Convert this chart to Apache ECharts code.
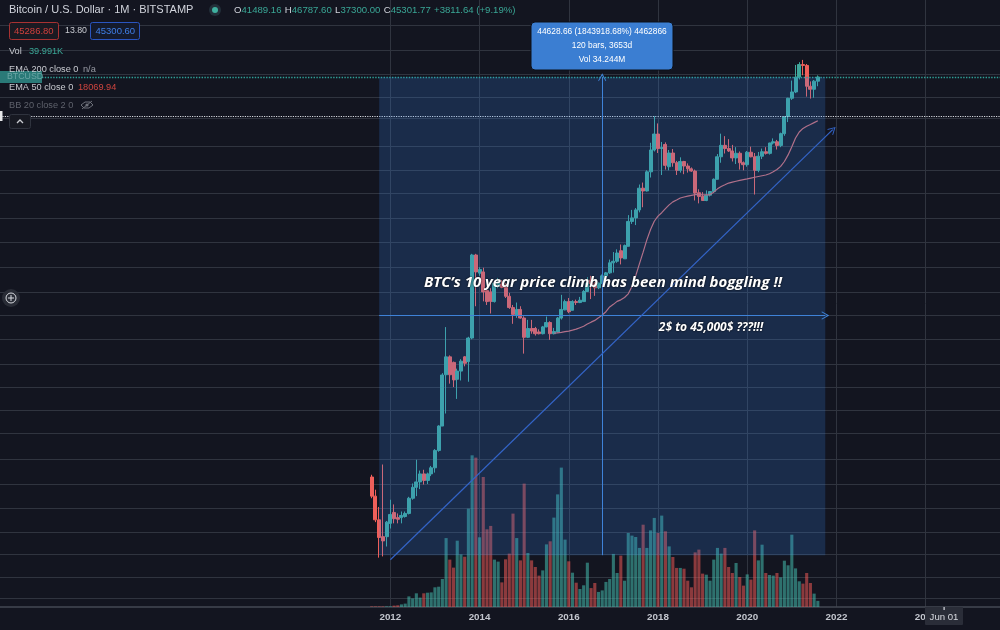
<!DOCTYPE html>
<html>
<head>
<meta charset="utf-8">
<style>html,body{margin:0;padding:0;background:#131520}#chart{width:1000px;height:630px}</style>
<script src="https://cdn.jsdelivr.net/npm/echarts@6/dist/echarts.min.js"></script>
</head>
<body>
<div id="chart"></div>
<script>
// months on the time axis, 2003-04 .. 2025-09
const months = [];
for (let y = 2003; y <= 2025; y++) {
  for (let m = 1; m <= 12; m++) {
    if ((y === 2003 && m < 4) || (y === 2025 && m > 9)) continue;
    months.push(y + '-' + String(m).padStart(2, '0'));
  }
}
const firstBar = '2011-08';

// monthly candles, 2011-08 .. 2021-08
const opens = [10.3,6.9,4.2,2.95,2.95,
  3.9,4.9,4.4,4.4,4.5,4.8,6.6,8.3,9.3,11,9.6,11,
  12.5,18,30,88,128,114,80,95,128,116,190,1084,
  741,760,514,500,408,570,590,550,456,360,308,346,
  289,193,232,232,216,208,240,263,208,216,289,343,
  408,340,408,400,408,504,640,590,545,600,700,745,
  920,950,1185,1000,1300,2190,2360,2790,4400,4150,6200,9800,
  13700,10100,11000,6900,9200,7500,6400,7700,7000,6600,6300,4000,
  3700,3400,3800,4100,5300,8500,10800,10100,9600,8300,9150,7500,
  7200,9350,8500,6400,8600,9450,9130,11350,11650,10780,13800,19700,
  29000,33100,45200,58800,57700,37300,35000,41489.16];
const closes = [6.9,4.2,2.9,2.7,4.0,
  4.7,4.3,4.25,4.6,4.8,6.6,8.3,9.3,11,9.6,11,12.5,
  18,30,87.5,128,88,79,95,117,112,190,1084,760,
  800,500,408,410,600,600,550,456,360,312,346,289,
  193,232,220,208,208,240,263,208,218,289,346,408,
  330,408,400,420,504,601,590,545,600,700,745,920,
  950,1130,1020,1320,2190,2360,2790,4400,4150,6200,9800,13700,
  10100,10300,7100,9200,7500,6400,7700,7000,6600,6300,3970,3700,
  3400,3800,4100,5300,8500,10800,10100,9600,8300,9150,7500,7200,
  9350,8500,6400,8600,9450,9130,11350,11650,10780,13800,19700,29000,
  33100,45200,58800,57700,37300,35000,41500,45301.77];
const lows = [6.6,4.0,1.9,1.95,2.4,
  3.5,3.9,3.9,3.9,4.4,4.7,6.4,6.9,8,8.8,8.9,10.5,
  11.3,17.5,30,39,73,68,53,78,105,76,185,370,
  700,410,380,318,400,540,540,440,350,256,290,285,
  137,190,208,200,205,205,238,183,205,214,280,340,
  320,340,380,395,408,500,430,460,530,590,690,730,
  750,920,890,1000,1300,2080,2030,2650,2950,4100,5500,9500,
  9200,5800,6500,6400,6900,5800,6100,5900,6100,6200,3400,3200,
  3400,3350,3700,4100,5300,7500,9100,9400,7700,7300,6500,6400,
  6900,8400,3850,6150,8100,8900,8900,11000,9900,10400,13200,17600,
  28000,32300,43000,47000,30000,28800,29300,37300];
const highs = [10.8,7.9,5.5,13.4,4.1,
  6.4,5.8,4.8,5.0,5.0,6.8,9.0,14.8,11.8,12,11.3,13,
  18.5,30.5,91,239,132,116,100,122,130,195,1110,1110,
  840,830,540,540,610,670,640,600,490,380,400,370,
  300,278,278,240,228,245,298,270,235,295,470,425,
  440,420,425,450,520,680,700,615,610,720,760,985,
  1153,1220,1350,1350,2500,2790,2900,4750,4950,6400,11400,19900,
  17100,11600,11500,9800,10000,7800,8400,7800,7400,6800,6500,4300,
  4050,4200,4100,5400,9000,13800,13100,12300,10900,10400,9500,7700,
  9600,10500,9200,9400,10100,10400,11400,12500,12100,14100,19900,29300,
  42000,58300,61800,64800,59500,41300,42500,46787.6];

// monthly volume, same months
const volumes = [4000,4000,4000,4000,4000,
  4000,9000,11000,17000,22000,69000,56000,89000,61000,89000,93000,95000,
  128000,132000,182000,448000,308000,256000,431000,342000,327000,639000,986000,971000,
  453000,845000,505000,527000,308000,295000,160000,310000,347000,607000,448000,303000,
  802000,351000,303000,260000,204000,238000,407000,427000,581000,732000,906000,438000,
  297000,223000,158000,117000,141000,288000,123000,156000,98000,108000,163000,182000,
  345000,221000,334000,171000,481000,464000,455000,384000,535000,384000,498000,579000,
  481000,594000,492000,394000,325000,254000,254000,249000,171000,128000,355000,373000,
  217000,210000,171000,308000,384000,347000,384000,260000,221000,286000,195000,139000,
  212000,178000,498000,303000,405000,221000,208000,204000,221000,193000,301000,271000,
  470000,251000,167000,152000,221000,156000,87000,39991];

// EMA 50, starts 2015-09
const emaStart = '2015-09';
const ema50 = [210,212,214,217,
  220,224,229,236,243,255,265,275,290,308,330,365,
  385,410,423,445,480,560,700,900,1150,1488,1850,2200,
  2450,2630,2870,3100,3300,3430,3580,3660,3730,3790,3840,3850,
  3830,3830,3850,4050,4340,4550,4720,4900,5000,5090,5180,5270,
  5350,5440,5530,5620,5710,5800,5950,6200,6500,6950,7700,8840,
  10500,12600,14300,15400,16100,16700,17400,18069.94];

// horizontal grid levels of the log price scale
const gridPrices = [134700,79800,48200,29800,19200,10670,6450,3980,2356,1423,843,499,308,186,110,68,42,25.9,15,8.9,5.3,3.25,2.05,1.27,0.815];

// the measure tool and annotations
const lastPrice = 45300;
const crossPrice = 19700;
const measureLow = 2;
const measureHigh = 45000;
const measureMid = 305;
const measureFrom = '2011-10';
const measureTo = '2021-10';
const measureCenter = '2016-10';
const trendFrom = ['2012-01', 1.82];
const trendTo = ['2021-12', 15000];

const TEAL = '#3fa79b';
const RED = '#ef5f5a';
const FONT = '"Liberation Sans", sans-serif';
const ARROW = 'path://M0 0L10 11L8.6 12.2L0 3.2L-8.6 12.2L-10 11Z';

const barOffset = months.indexOf(firstBar);
const candleData = months.map((m, i) => {
  const k = i - barOffset;
  if (k < 0 || k >= opens.length) return ['-', '-', '-', '-'];
  return [opens[k], closes[k], lows[k], highs[k]];
});
const volumeData = months.map((m, i) => {
  const k = i - barOffset;
  if (k < 0 || k >= volumes.length) return '-';
  return {
    value: volumes[k],
    itemStyle: { color: closes[k] >= opens[k] ? 'rgba(70,190,175,0.55)' : 'rgba(239,90,85,0.55)' }
  };
});
const emaOffset = months.indexOf(emaStart);
const emaData = months.map((m, i) => {
  const k = i - emaOffset;
  return k < 0 || k >= ema50.length ? '-' : ema50[k];
});

const isYearTick = (index, value) => {
  const parts = value.split('-');
  return parts[1] === '01' && +parts[0] % 2 === 0 && +parts[0] >= 2012;
};

const txt = (x, y, text, color, size, extra) => ({
  type: 'text', x: x, y: y, z: 100,
  style: Object.assign({
    text: text, fill: color, font: (size || 9.3) + 'px ' + FONT,
    textVerticalAlign: 'middle'
  }, extra || {})
});
const box = (x, y, w, h, fill, stroke, r) => ({
  type: 'rect', z: 99,
  shape: { x: x, y: y, width: w, height: h, r: r || 0 },
  style: { fill: fill, stroke: stroke || null, lineWidth: stroke ? 1 : 0 }
});

var myChart = echarts.init(document.getElementById('chart'));
var option = {
  backgroundColor: '#131520',
  animation: false,
  grid: [
    { left: -1, right: -1, top: 0, bottom: 23 },
    { left: -1, right: -1, top: 450, bottom: 23 }
  ],
  xAxis: [
    {
      type: 'category', gridIndex: 0, data: months, boundaryGap: false,
      axisLine: { show: false }, axisTick: { show: false }, axisLabel: { show: false },
      splitLine: { show: true, interval: isYearTick, lineStyle: { color: '#30343f', width: 1 } }
    },
    {
      type: 'category', gridIndex: 1, data: months, boundaryGap: false,
      axisLine: { show: true, lineStyle: { color: '#444853', width: 1.5 } },
      axisTick: { show: false },
      splitLine: { show: false },
      axisLabel: {
        show: true, interval: isYearTick, margin: 5,
        color: '#c3c6ce', fontSize: 9.8, fontWeight: 'bold', fontFamily: FONT,
        formatter: (v) => v.slice(0, 4)
      }
    }
  ],
  yAxis: [
    {
      type: 'log', logBase: 10, gridIndex: 0, min: 0.675, max: 227600,
      axisLine: { show: false },
      axisTick: { show: false, customValues: gridPrices },
      axisLabel: { show: false, customValues: gridPrices },
      splitLine: { show: true, lineStyle: { color: '#30343f', width: 1 } }
    },
    {
      type: 'value', gridIndex: 1, min: 0, max: 1020500,
      axisLine: { show: false }, axisTick: { show: false }, axisLabel: { show: false },
      splitLine: { show: false }
    }
  ],
  series: [
    {
      name: 'Vol', type: 'bar', xAxisIndex: 1, yAxisIndex: 1,
      data: volumeData, barWidth: 3.1, z: 2, silent: true
    },
    {
      name: 'BTCUSD', type: 'candlestick', xAxisIndex: 0, yAxisIndex: 0,
      data: candleData, barWidth: 3.5, z: 3,
      itemStyle: { color: TEAL, color0: RED, borderColor: TEAL, borderColor0: RED, borderWidth: 1 },
      markLine: {
        silent: true, symbol: 'none', animation: false, z: 4,
        label: { show: false },
        data: [
          { yAxis: lastPrice, lineStyle: { color: '#2fa096', type: 'dotted', width: 1.4 } },
          { yAxis: crossPrice, lineStyle: { color: '#d8dae0', type: 'dotted', width: 1.2 } }
        ]
      }
    },
    {
      name: 'EMA 50', type: 'line', xAxisIndex: 0, yAxisIndex: 0,
      data: emaData, showSymbol: false, z: 4, silent: true,
      lineStyle: { color: '#d06a70', width: 1.2 }
    },
    {
      // measure rectangle and arrows sit above candles and bars
      name: 'Measure', type: 'line', xAxisIndex: 0, yAxisIndex: 0,
      data: [], z: 10, silent: true,
      markArea: {
        silent: true, z: 10,
        itemStyle: { color: 'rgba(54,141,247,0.2)' },
        data: [[{ coord: [measureFrom, measureHigh] }, { coord: [measureTo, measureLow] }]]
      },
      markLine: {
        silent: true, z: 11, symbol: ['none', ARROW], symbolSize: 8, animation: false,
        label: { show: false },
        lineStyle: { color: '#3f83d8', width: 1, type: 'solid' },
        data: [
          [{ coord: [measureCenter, measureLow] }, { coord: [measureCenter, measureHigh] }],
          [{ coord: [measureFrom, measureMid] }, { coord: [measureTo, measureMid] }],
          [{ coord: trendFrom, lineStyle: { color: '#3364c8', width: 1.2, type: 'solid' } },
           { coord: trendTo, lineStyle: { color: '#3364c8', width: 1.2, type: 'solid' } }]
        ]
      }
    }
  ],
  graphic: [
    txt(9, 10, 'Bitcoin / U.S. Dollar · 1M · BITSTAMP', '#d1d4dc', 11),
    { type: 'circle', z: 99, shape: { cx: 215, cy: 10, r: 6 }, style: { fill: '#23303a' } },
    { type: 'circle', z: 100, shape: { cx: 215, cy: 10, r: 3 }, style: { fill: '#3fb0a0' } },
    {
      type: 'text', x: 234, y: 10, z: 100,
      style: {
        text: '{l|O}{v|41489.16} {l|H}{v|46787.60} {l|L}{v|37300.00} {l|C}{v|45301.77} {v|+3811.64 (+9.19%)}',
        textVerticalAlign: 'middle',
        rich: {
          l: { fill: '#d1d4dc', font: '9.6px ' + FONT },
          v: { fill: '#3aa796', font: '9.6px ' + FONT }
        }
      }
    },
    box(9.5, 22.5, 49, 17, '#1a1a22', '#a83232', 2),
    txt(14, 31, '45286.80', '#d0403c', 9.5),
    txt(65, 31, '13.80', '#c8cad0', 8.8),
    box(90.5, 22.5, 49, 17, '#141a2c', '#2a55c0', 2),
    txt(95.5, 31, '45300.60', '#3f7fe8', 9.5),
    txt(9, 51, 'Vol', '#c8cad0', 9.2),
    txt(29, 51, '39.991K', '#3aa796', 9.2),
    box(0, 71, 42, 12, '#2a7a78'),
    txt(7, 77, 'BTCUSD', '#6aa5a5', 8.8),
    txt(9, 69, 'EMA 200 close 0', '#c8cad0', 9.2),
    txt(83, 69, 'n/a', '#9a9da6', 9.2),
    txt(9, 87, 'EMA 50 close 0', '#c8cad0', 9.2),
    txt(78, 87, '18069.94', '#d0453f', 9.2),
    txt(9, 105, 'BB 20 close 2 0', '#5e616b', 9.2),
    {
      type: 'polyline', z: 100,
      shape: { points: [[81, 105], [85, 102], [90, 102], [93, 105], [89, 108], [84, 108], [81, 105]] },
      style: { fill: null, stroke: '#6e717a', lineWidth: 1 }
    },
    { type: 'circle', z: 100, shape: { cx: 87, cy: 105, r: 1.6 }, style: { fill: '#6e717a' } },
    { type: 'line', z: 100, shape: { x1: 82, y1: 109, x2: 92, y2: 101 }, style: { stroke: '#6e717a', lineWidth: 1 } },
    box(9.5, 114.5, 21, 14, '#171922', '#2f333e', 2),
    {
      type: 'polyline', z: 100,
      shape: { points: [[17, 123], [20, 120], [23, 123]] },
      style: { fill: null, stroke: '#c8cad0', lineWidth: 1.3 }
    },
    box(0, 111, 2.5, 10, '#e6e7ea'),

    { type: 'circle', z: 99, shape: { cx: 11, cy: 298, r: 9 }, style: { fill: '#292c36' } },
    { type: 'circle', z: 100, shape: { cx: 11, cy: 298, r: 5 }, style: { fill: null, stroke: '#d8dae0', lineWidth: 1 } },
    { type: 'line', z: 100, shape: { x1: 8, y1: 298, x2: 14, y2: 298 }, style: { stroke: '#d8dae0', lineWidth: 1 } },
    { type: 'line', z: 100, shape: { x1: 11, y1: 295, x2: 11, y2: 301 }, style: { stroke: '#d8dae0', lineWidth: 1 } },

    box(531, 22, 142, 48, '#3b7ed2', '#0d1018', 4),
    txt(602, 32, '44628.66 (1843918.68%) 4462866', '#ffffff', 8.4, { textAlign: 'center' }),
    txt(602, 46, '120 bars, 3653d', '#ffffff', 8.4, { textAlign: 'center' }),
    txt(602, 60, 'Vol 34.244M', '#ffffff', 8.4, { textAlign: 'center' }),

    txt(603, 283, 'BTC’s 10 year price climb has been mind boggling !!', '#ffffff', 15, {
      textAlign: 'center',
      font: 'italic bold 15px "Open Sans", sans-serif',
      textShadowColor: '#000000', textShadowBlur: 2
    }),
    txt(711, 328, '2$ to 45,000$ ???!!!', '#ffffff', 12, {
      textAlign: 'center',
      font: 'italic bold 12px "Open Sans", sans-serif',
      textShadowColor: '#000000', textShadowBlur: 2
    }),

    box(925, 607, 38, 18, '#2a2d38', null, 1),
    box(943.5, 607, 1.2, 3, '#d8dae0'),
    txt(944, 617, 'Jun 01', '#d8dae0', 9.6, { textAlign: 'center' })
  ]
};
myChart.setOption(option);
</script>
</body>
</html>
